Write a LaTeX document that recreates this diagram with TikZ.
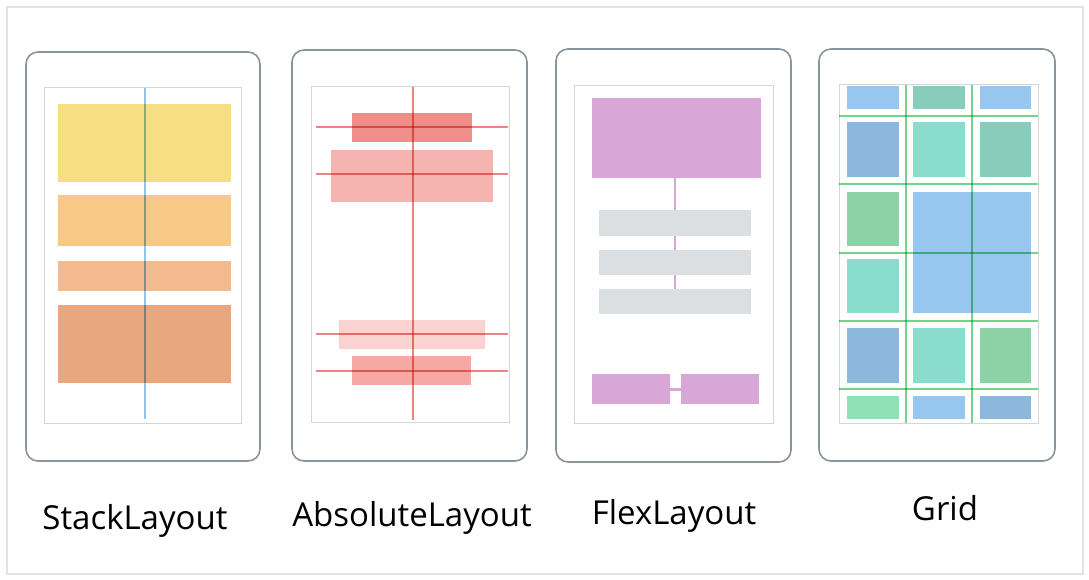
\documentclass[tikz,border=0pt]{standalone}
\usepackage{fontspec}
\setmainfont{Open Sans}
\usetikzlibrary{fit}

\definecolor{framegray}{HTML}{E2E2E2}
\definecolor{phonegray}{HTML}{8A949D}
\definecolor{screengray}{HTML}{D3D7DB}
\definecolor{stackA}{HTML}{F7DE82}
\definecolor{stackB}{HTML}{F8C886}
\definecolor{stackC}{HTML}{F2BA8E}
\definecolor{stackD}{HTML}{E8A77E}
\definecolor{stackguide}{HTML}{8CC5EE}
\definecolor{absA}{HTML}{F08E89}
\definecolor{absB}{HTML}{F6B4B0}
\definecolor{absC}{HTML}{FAD2D0}
\definecolor{absD}{HTML}{F5A8A4}
\definecolor{absguide}{HTML}{E88481}
\definecolor{flexpurple}{HTML}{D9A7D7}
\definecolor{flexgray}{HTML}{DCDFE2}
\definecolor{gblue}{HTML}{97C7EE}
\definecolor{gteal}{HTML}{88CCBC}
\definecolor{gsteel}{HTML}{8DB8DD}
\definecolor{gaqua}{HTML}{8ADDCC}
\definecolor{ggreen}{HTML}{8DD1A7}
\definecolor{gmint}{HTML}{91E1B7}
\definecolor{gridguide}{HTML}{6FD58F}

\tikzset{
	phone/.style={draw=phonegray, line width=1.6pt, rounded corners=12pt, inner sep=0pt},
	screen/.style={draw=screengray, line width=1pt, inner sep=0pt},
	cell/.style={inner sep=0pt, outer sep=0pt},
	guide/.style={line width=1.3pt, blend mode=multiply},
	layoutname/.style={font=\fontsize{33}{38}\selectfont, anchor=base, inner sep=0pt},
}

\begin{document}
		\begin{tikzpicture}[x=1pt, y=-1pt]
			\useasboundingbox (0,0) rectangle (1089,580);
			\draw [framegray, line width=1.5pt] (7,7) rectangle (1083,574);

			% StackLayout
			\node (stackphone) [phone, fit={(26,52) (260,461)}] {};
			\node (stackscreen) [screen, fit={(44,88) (241,423)}] {};
			\node (stackA) [cell, fill=stackA, fit={(58,104) (231,182)}] {};
			\node (stackB) [cell, fill=stackB, fit={(58,195) (231,246)}] {};
			\node (stackC) [cell, fill=stackC, fit={(58,261) (231,291)}] {};
			\node (stackD) [cell, fill=stackD, fit={(58,305) (231,383)}] {};
			\draw [guide, stackguide, line width=2pt] (145,88) -- (145,419);

			% AbsoluteLayout
			\node (absphone) [phone, fit={(292,50) (527,461)}] {};
			\node (absscreen) [screen, fit={(311,87) (509,422)}] {};
			\node (absA) [cell, fill=absA, fit={(352,113) (472,142)}] {};
			\node (absB) [cell, fill=absB, fit={(331,150) (493,202)}] {};
			\node (absC) [cell, fill=absC, fit={(339,320) (485,349)}] {};
			\node (absD) [cell, fill=absD, fit={(352,356) (471,385)}] {};
			\draw [guide, absguide] (413,87) -- (413,420);
			\foreach \y in {127,174,334,371}
				\draw [guide, absguide] (316,\y) -- (508,\y);

			% FlexLayout
			\node (flexphone) [phone, fit={(556,49) (791,462)}] {};
			\node (flexscreen) [screen, fit={(574,86) (773,423)}] {};
			\node (flextop) [cell, fill=flexpurple, fit={(592,98) (761,178)}] {};
			\node (flexrowA) [cell, fill=flexgray, fit={(599,210) (751,236)}] {};
			\node (flexrowB) [cell, fill=flexgray, fit={(599,250) (751,275)}] {};
			\node (flexrowC) [cell, fill=flexgray, fit={(599,289) (751,314)}] {};
			\node (flexleft) [cell, fill=flexpurple, fit={(592,374) (670,404)}] {};
			\node (flexright) [cell, fill=flexpurple, fit={(681,374) (759,404)}] {};
			\draw [flexpurple, line width=2.5pt] (flextop.south -| flexrowA) -- (flexrowA.north);
			\draw [flexpurple, line width=2.5pt] (flexrowA.south) -- (flexrowB.north);
			\draw [flexpurple, line width=2.5pt] (flexrowB.south) -- (flexrowC.north);
			\draw [flexpurple, line width=3pt] (flexleft.east) -- (flexright.west);

			% Grid
			\node (gridphone) [phone, fit={(819,49) (1055,461)}] {};
			\node (gridscreen) [screen, fit={(839,85) (1038,423)}] {};
			\node (cellAA) [cell, fill=gblue, fit={(847,86) (899,109)}] {};
			\node (cellAB) [cell, fill=gteal, fit={(913,86) (965,109)}] {};
			\node (cellAC) [cell, fill=gblue, fit={(980,86) (1031,109)}] {};
			\node (cellBA) [cell, fill=gsteel, fit={(847,122) (899,177)}] {};
			\node (cellBB) [cell, fill=gaqua, fit={(913,122) (965,177)}] {};
			\node (cellBC) [cell, fill=gteal, fit={(980,122) (1031,177)}] {};
			\node (cellCA) [cell, fill=ggreen, fit={(847,192) (899,246)}] {};
			\node (cellspan) [cell, fill=gblue, fit={(913,192) (1031,313)}] {};
			\node (cellDA) [cell, fill=gaqua, fit={(847,259) (899,313)}] {};
			\node (cellEA) [cell, fill=gsteel, fit={(847,328) (899,383)}] {};
			\node (cellEB) [cell, fill=gaqua, fit={(913,328) (965,383)}] {};
			\node (cellEC) [cell, fill=ggreen, fit={(980,328) (1031,383)}] {};
			\node (cellFA) [cell, fill=gmint, fit={(847,396) (899,419)}] {};
			\node (cellFB) [cell, fill=gblue, fit={(913,396) (965,419)}] {};
			\node (cellFC) [cell, fill=gsteel, fit={(980,396) (1031,419)}] {};
			\foreach \x in {906,972}
				\draw [guide, gridguide, line width=1.4pt] (\x,85) -- (\x,423);
			\foreach \y in {116,184,253,321,389}
				\draw [guide, gridguide, line width=1.4pt] (839,\y) -- (1038,\y);

			\node (stacklabel) [layoutname] at (135,529) {StackLayout};
			\node (abslabel) [layoutname] at (412,526) {AbsoluteLayout};
			\node (flexlabel) [layoutname] at (674,524) {FlexLayout};
			\node (gridlabel) [layoutname] at (945,520) {Grid};
		\end{tikzpicture}
\end{document}
